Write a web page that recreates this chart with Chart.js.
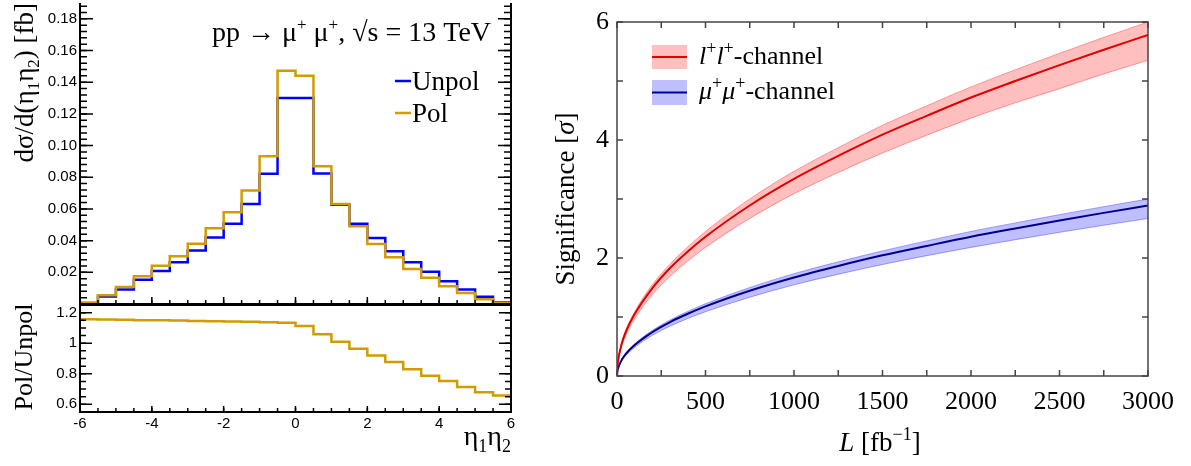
<!DOCTYPE html>
<html>
<head>
<meta charset="utf-8">
<title>Pol/Unpol and significance</title>
<script src="https://cdn.jsdelivr.net/npm/chart.js@4"></script>
<style>
  body { margin: 0; background: #fff; }
  #wrap { position: relative; width: 1191px; height: 466px; }
  canvas { position: absolute; left: 0; top: 0; }
</style>
</head>
<body>
<div id="wrap">
  <canvas id="hist" width="1191" height="466"></canvas>
  <canvas id="ratio" width="1191" height="466"></canvas>
  <canvas id="signif" width="1191" height="466"></canvas>
</div>
<script>
// eta1*eta2 bins, left edges (width 0.5), last bin ends at 6
var binEdges = [-6, -5.5, -5, -4.5, -4, -3.5, -3, -2.5, -2, -1.5, -1, -0.5, 0, 0.5, 1, 1.5, 2, 2.5, 3, 3.5, 4, 4.5, 5, 5.5];
var binEnd = 6;
var unpolVals = [0.0007, 0.0047, 0.0092, 0.0153, 0.0209, 0.0264, 0.0338, 0.0420, 0.0507, 0.0632, 0.0822, 0.1300,
                 0.1300, 0.0823, 0.0627, 0.0507, 0.0417, 0.0333, 0.0263, 0.0203, 0.0143, 0.0091, 0.0045, 0.0010];
var polVals = [0.0008, 0.0055, 0.0108, 0.0175, 0.0242, 0.0301, 0.0381, 0.0478, 0.0579, 0.0717, 0.0932, 0.1473,
               0.1441, 0.0869, 0.0632, 0.0490, 0.0379, 0.0295, 0.0221, 0.0165, 0.0112, 0.0070, 0.0030, 0.0007];
var ratioVals = [1.156, 1.155, 1.153, 1.151, 1.150, 1.148, 1.146, 1.144, 1.142, 1.140, 1.137, 1.134,
                 1.112, 1.058, 1.010, 0.963, 0.920, 0.877, 0.830, 0.787, 0.753, 0.714, 0.679, 0.658];
var histYTicks = [0.02, 0.04, 0.06, 0.08, 0.10, 0.12, 0.14, 0.16, 0.18];
var ratioYTicks = [0.6, 0.8, 1, 1.2];
var etaTicks = [-6, -4, -2, 0, 2, 4, 6];

// significance vs integrated luminosity
var lumi = [0, 2, 5, 10, 25, 50, 100, 200, 300, 400, 500, 750, 1000, 1250, 1500, 1750, 2000, 2250, 2500, 2750, 3000];
var llCentral = [0, 0.15, 0.24, 0.33, 0.53, 0.75, 1.05, 1.49, 1.83, 2.11, 2.36, 2.89, 3.34, 3.73, 4.09, 4.41, 4.72, 5.00, 5.27, 5.53, 5.78];
var llUpper = [0, 0.155, 0.25, 0.34, 0.55, 0.78, 1.09, 1.55, 1.90, 2.19, 2.45, 3.00, 3.47, 3.87, 4.25, 4.58, 4.90, 5.19, 5.47, 5.74, 6.0];
var llLower = [0, 0.14, 0.22, 0.305, 0.49, 0.69, 0.97, 1.38, 1.69, 1.95, 2.18, 2.67, 3.09, 3.45, 3.78, 4.08, 4.37, 4.63, 4.87, 5.12, 5.35];
var mmCentral = [0, 0.075, 0.12, 0.165, 0.265, 0.375, 0.525, 0.745, 0.915, 1.055, 1.18, 1.445, 1.67, 1.865, 2.045, 2.205, 2.36, 2.50, 2.635, 2.765, 2.89];
var mmUpper = [0, 0.078, 0.125, 0.17, 0.275, 0.39, 0.545, 0.775, 0.95, 1.095, 1.225, 1.50, 1.735, 1.935, 2.12, 2.29, 2.45, 2.595, 2.735, 2.87, 3.0];
var mmLower = [0, 0.07, 0.11, 0.152, 0.245, 0.347, 0.485, 0.69, 0.845, 0.975, 1.09, 1.335, 1.545, 1.725, 1.89, 2.04, 2.18, 2.31, 2.435, 2.555, 2.67];
var lumiTicks = [0, 500, 1000, 1500, 2000, 2500, 3000];
var sigTicks = [0, 2, 4, 6];

var GOLD = '#d09c00';
var SANS = "'Liberation Sans', Arial, sans-serif";
var SERIF = "'Liberation Serif', 'Times New Roman', serif";

Chart.defaults.animation = false;
Chart.defaults.responsive = false;
Chart.defaults.plugins.legend.display = false;
Chart.defaults.plugins.tooltip.enabled = false;
Chart.defaults.color = '#000';

function histPoints(vals) {
  var pts = binEdges.map(function (e, i) { return { x: e, y: vals[i] }; });
  pts.push({ x: binEnd, y: vals[vals.length - 1] });
  return pts;
}
function curve(ys) {
  return lumi.map(function (l, i) { return { x: l, y: ys[i] }; });
}
function steps(a, b, st) {
  var out = [];
  for (var v = a; v <= b + 1e-9; v += st) out.push(Math.round(v * 1e6) / 1e6);
  return out;
}
function fixY(w) {
  return function (s) { s.width = w; s.paddingTop = 0; s.paddingBottom = 0; };
}
function fixX(h) {
  return function (s) { s.height = h; s.paddingLeft = 0; s.paddingRight = 0; };
}
function setTicks(list) {
  return function (s) { s.ticks = list.map(function (v) { return { value: v }; }); };
}
function tickMarks(chart, id, values, len, sides) {
  var ctx = chart.ctx, a = chart.chartArea, sc = chart.scales[id];
  ctx.beginPath();
  values.forEach(function (v) {
    var p = sc.getPixelForValue(v);
    sides.forEach(function (s) {
      if (s === 'bottom') { ctx.moveTo(p, a.bottom); ctx.lineTo(p, a.bottom - len); }
      if (s === 'top') { ctx.moveTo(p, a.top); ctx.lineTo(p, a.top + len); }
      if (s === 'left') { ctx.moveTo(a.left, p); ctx.lineTo(a.left + len, p); }
      if (s === 'right') { ctx.moveTo(a.right, p); ctx.lineTo(a.right - len, p); }
    });
  });
  ctx.stroke();
}
// draw a row of text pieces [text, font, dy]
function runs(ctx, x, y, parts, align) {
  var w = 0;
  parts.forEach(function (p) { ctx.font = p[1]; w += ctx.measureText(p[0]).width; });
  var cx = align === 'center' ? x - w / 2 : (align === 'right' ? x - w : x);
  ctx.textAlign = 'left';
  ctx.textBaseline = 'alphabetic';
  parts.forEach(function (p) {
    ctx.font = p[1];
    ctx.fillText(p[0], cx, y + (p[2] || 0));
    cx += ctx.measureText(p[0]).width;
  });
}

// ---- top left: distributions ----
new Chart(document.getElementById('hist'), {
  type: 'line',
  data: {
    datasets: [
      { data: histPoints(unpolVals), borderColor: '#0000ff', borderWidth: 2.5, stepped: true, pointRadius: 0, fill: false, order: 1 },
      { data: histPoints(polVals), borderColor: GOLD, borderWidth: 2.5, stepped: true, pointRadius: 0, fill: false, order: 0 }
    ]
  },
  options: {
    layout: { padding: { left: 0, right: 680, top: 3, bottom: 161 } },
    scales: {
      x: {
        type: 'linear', min: -6, max: 6,
        grid: { display: false }, border: { display: false },
        ticks: { display: false },
        afterFit: fixX(1)
      },
      y: {
        min: 0, max: 0.19,
        grid: { display: false, drawTicks: false }, border: { display: false },
        afterBuildTicks: setTicks(histYTicks),
        ticks: { padding: 3, font: { family: SANS, size: 15 }, callback: function (v) { return v.toFixed(2); } },
        afterFit: fixY(80)
      }
    }
  },
  plugins: [{
    id: 'histDeco',
    afterDraw: function (chart) {
      var ctx = chart.ctx, a = chart.chartArea;
      ctx.save();
      ctx.strokeStyle = '#000';
      ctx.lineWidth = 2;
      ctx.beginPath();
      ctx.moveTo(a.left, a.top); ctx.lineTo(a.left, a.bottom); ctx.lineTo(a.right, a.bottom); ctx.lineTo(a.right, a.top);
      ctx.stroke();
      ctx.lineWidth = 1.5;
      tickMarks(chart, 'y', steps(0, 0.18, 0.02), 13, ['left', 'right']);
      tickMarks(chart, 'y', steps(0, 0.188, 0.004), 7, ['left', 'right']);
      tickMarks(chart, 'x', etaTicks, 7, ['bottom']);
      tickMarks(chart, 'x', steps(-6, 6, 0.5), 4, ['bottom']);

      ctx.fillStyle = '#000';
      // y title
      ctx.save();
      ctx.translate(33, 0);
      ctx.rotate(-Math.PI / 2);
      runs(ctx, -3, 0, [
        ['d\u03c3/d(\u03b7', '27px ' + SERIF], ['1', '17px ' + SERIF, 6], ['\u03b7', '27px ' + SERIF],
        ['2', '17px ' + SERIF, 6], [') [fb]', '27px ' + SERIF]
      ], 'right');
      ctx.restore();
      // process label
      runs(ctx, 212, 41, [
        ['pp \u2192 \u03bc', '28px ' + SERIF], ['+', '17px ' + SERIF, -11], [' \u03bc', '28px ' + SERIF],
        ['+', '17px ' + SERIF, -11], [', \u221As = 13 TeV', '28px ' + SERIF]
      ], 'left');
      // legend
      ctx.lineWidth = 2.5;
      ctx.strokeStyle = '#0000ff';
      ctx.beginPath(); ctx.moveTo(395, 81); ctx.lineTo(411, 81); ctx.stroke();
      ctx.strokeStyle = GOLD;
      ctx.beginPath(); ctx.moveTo(395, 113); ctx.lineTo(411, 113); ctx.stroke();
      runs(ctx, 412, 90, [['Unpol', '27px ' + SERIF]], 'left');
      runs(ctx, 412, 122, [['Pol', '27px ' + SERIF]], 'left');
      ctx.restore();
    }
  }]
});

// ---- bottom left: ratio ----
new Chart(document.getElementById('ratio'), {
  type: 'line',
  data: {
    datasets: [
      { data: histPoints(ratioVals), borderColor: GOLD, borderWidth: 2.5, stepped: true, pointRadius: 0, fill: false }
    ]
  },
  options: {
    layout: { padding: { left: 0, right: 680, top: 305, bottom: 24 } },
    scales: {
      x: {
        type: 'linear', min: -6, max: 6,
        grid: { display: false, drawTicks: false }, border: { display: false },
        afterBuildTicks: setTicks(etaTicks),
        ticks: { padding: 3, maxRotation: 0, font: { family: SANS, size: 15 } },
        afterFit: fixX(30)
      },
      y: {
        min: 0.55, max: 1.25,
        grid: { display: false, drawTicks: false }, border: { display: false },
        afterBuildTicks: setTicks(ratioYTicks),
        ticks: { padding: 3, font: { family: SANS, size: 15 }, callback: function (v) { return String(Math.round(v * 10) / 10); } },
        afterFit: fixY(80)
      }
    }
  },
  plugins: [{
    id: 'ratioDeco',
    afterDraw: function (chart) {
      var ctx = chart.ctx, a = chart.chartArea;
      ctx.save();
      ctx.strokeStyle = '#000';
      ctx.lineWidth = 2;
      ctx.strokeRect(a.left, a.top, a.right - a.left, a.bottom - a.top);
      ctx.lineWidth = 1.5;
      tickMarks(chart, 'y', ratioYTicks, 12, ['left', 'right']);
      tickMarks(chart, 'y', steps(0.6, 1.2, 0.05), 6, ['left', 'right']);
      tickMarks(chart, 'x', etaTicks, 6, ['bottom']);
      tickMarks(chart, 'x', steps(-6, 6, 0.5), 4, ['bottom']);

      ctx.fillStyle = '#000';
      ctx.save();
      ctx.translate(32, 357);
      ctx.rotate(-Math.PI / 2);
      runs(ctx, 0, 0, [['Pol/Unpol', '26px ' + SERIF]], 'center');
      ctx.restore();
      runs(ctx, 511, 445, [
        ['\u03b7', '28px ' + SERIF], ['1', '18px ' + SERIF, 7], ['\u03b7', '28px ' + SERIF], ['2', '18px ' + SERIF, 7]
      ], 'right');
      ctx.restore();
    }
  }]
});

// ---- right: significance ----
new Chart(document.getElementById('signif'), {
  type: 'line',
  data: {
    datasets: [
      { data: curve(llUpper), borderColor: 'rgba(255,60,60,0.45)', borderWidth: 1, backgroundColor: 'rgba(255,0,0,0.25)', fill: '+1', pointRadius: 0, cubicInterpolationMode: 'monotone', order: 2 },
      { data: curve(llLower), borderColor: 'rgba(255,60,60,0.45)', borderWidth: 1, fill: false, pointRadius: 0, cubicInterpolationMode: 'monotone', order: 2 },
      { data: curve(mmUpper), borderColor: 'rgba(60,60,255,0.45)', borderWidth: 1, backgroundColor: 'rgba(0,0,255,0.25)', fill: '+1', pointRadius: 0, cubicInterpolationMode: 'monotone', order: 2 },
      { data: curve(mmLower), borderColor: 'rgba(60,60,255,0.45)', borderWidth: 1, fill: false, pointRadius: 0, cubicInterpolationMode: 'monotone', order: 2 },
      { data: curve(llCentral), borderColor: '#e00000', borderWidth: 2, fill: false, pointRadius: 0, cubicInterpolationMode: 'monotone', order: 0 },
      { data: curve(mmCentral), borderColor: '#00008c', borderWidth: 2, fill: false, pointRadius: 0, cubicInterpolationMode: 'monotone', order: 0 }
    ]
  },
  options: {
    layout: { padding: { left: 547, right: 43, top: 22, bottom: 50 } },
    scales: {
      x: {
        type: 'linear', min: 0, max: 3000,
        grid: { display: false, drawTicks: false }, border: { display: false },
        afterBuildTicks: setTicks(lumiTicks),
        ticks: { padding: 11, maxRotation: 0, font: { family: SERIF, size: 26 }, callback: function (v) { return String(v); } },
        afterFit: fixX(40)
      },
      y: {
        min: 0, max: 6,
        grid: { display: false, drawTicks: false }, border: { display: false },
        afterBuildTicks: setTicks(sigTicks),
        ticks: { padding: 8, font: { family: SERIF, size: 26 } },
        afterFit: fixY(70)
      }
    }
  },
  plugins: [{
    id: 'sigDeco',
    afterDraw: function (chart) {
      var ctx = chart.ctx, a = chart.chartArea;
      ctx.save();
      ctx.strokeStyle = '#444';
      ctx.lineWidth = 1.5;
      ctx.strokeRect(a.left, a.top, a.right - a.left, a.bottom - a.top);
      tickMarks(chart, 'x', steps(0, 3000, 250), 6, ['bottom', 'top']);
      tickMarks(chart, 'y', steps(0, 6, 1), 6, ['left', 'right']);

      // legend
      ctx.fillStyle = 'rgba(255,0,0,0.25)';
      ctx.fillRect(652, 45, 35, 24);
      ctx.fillStyle = 'rgba(0,0,255,0.25)';
      ctx.fillRect(652, 80, 35, 25);
      ctx.lineWidth = 2;
      ctx.strokeStyle = '#e00000';
      ctx.beginPath(); ctx.moveTo(652, 57); ctx.lineTo(687, 57); ctx.stroke();
      ctx.strokeStyle = '#00008c';
      ctx.beginPath(); ctx.moveTo(652, 92.5); ctx.lineTo(687, 92.5); ctx.stroke();

      ctx.fillStyle = '#000';
      runs(ctx, 699, 64, [
        ['l', 'italic 26px ' + SERIF], ['+', '18px ' + SERIF, -10], ['l', 'italic 26px ' + SERIF],
        ['+', '18px ' + SERIF, -10], ['-channel', '26px ' + SERIF]
      ], 'left');
      runs(ctx, 699, 99, [
        ['\u03bc', 'italic 26px ' + SERIF], ['+', '18px ' + SERIF, -10], ['\u03bc', 'italic 26px ' + SERIF],
        ['+', '18px ' + SERIF, -10], ['-channel', '26px ' + SERIF]
      ], 'left');

      // axis titles
      runs(ctx, 880, 451, [
        ['L', 'italic 27px ' + SERIF], [' [fb', '27px ' + SERIF], ['\u22121', '18px ' + SERIF, -11], [']', '27px ' + SERIF]
      ], 'center');
      ctx.save();
      ctx.translate(574, 199);
      ctx.rotate(-Math.PI / 2);
      runs(ctx, 0, 0, [
        ['Significance [', '27px ' + SERIF], ['\u03c3', 'italic 27px ' + SERIF], [']', '27px ' + SERIF]
      ], 'center');
      ctx.restore();
      ctx.restore();
    }
  }]
});
</script>
</body>
</html>
